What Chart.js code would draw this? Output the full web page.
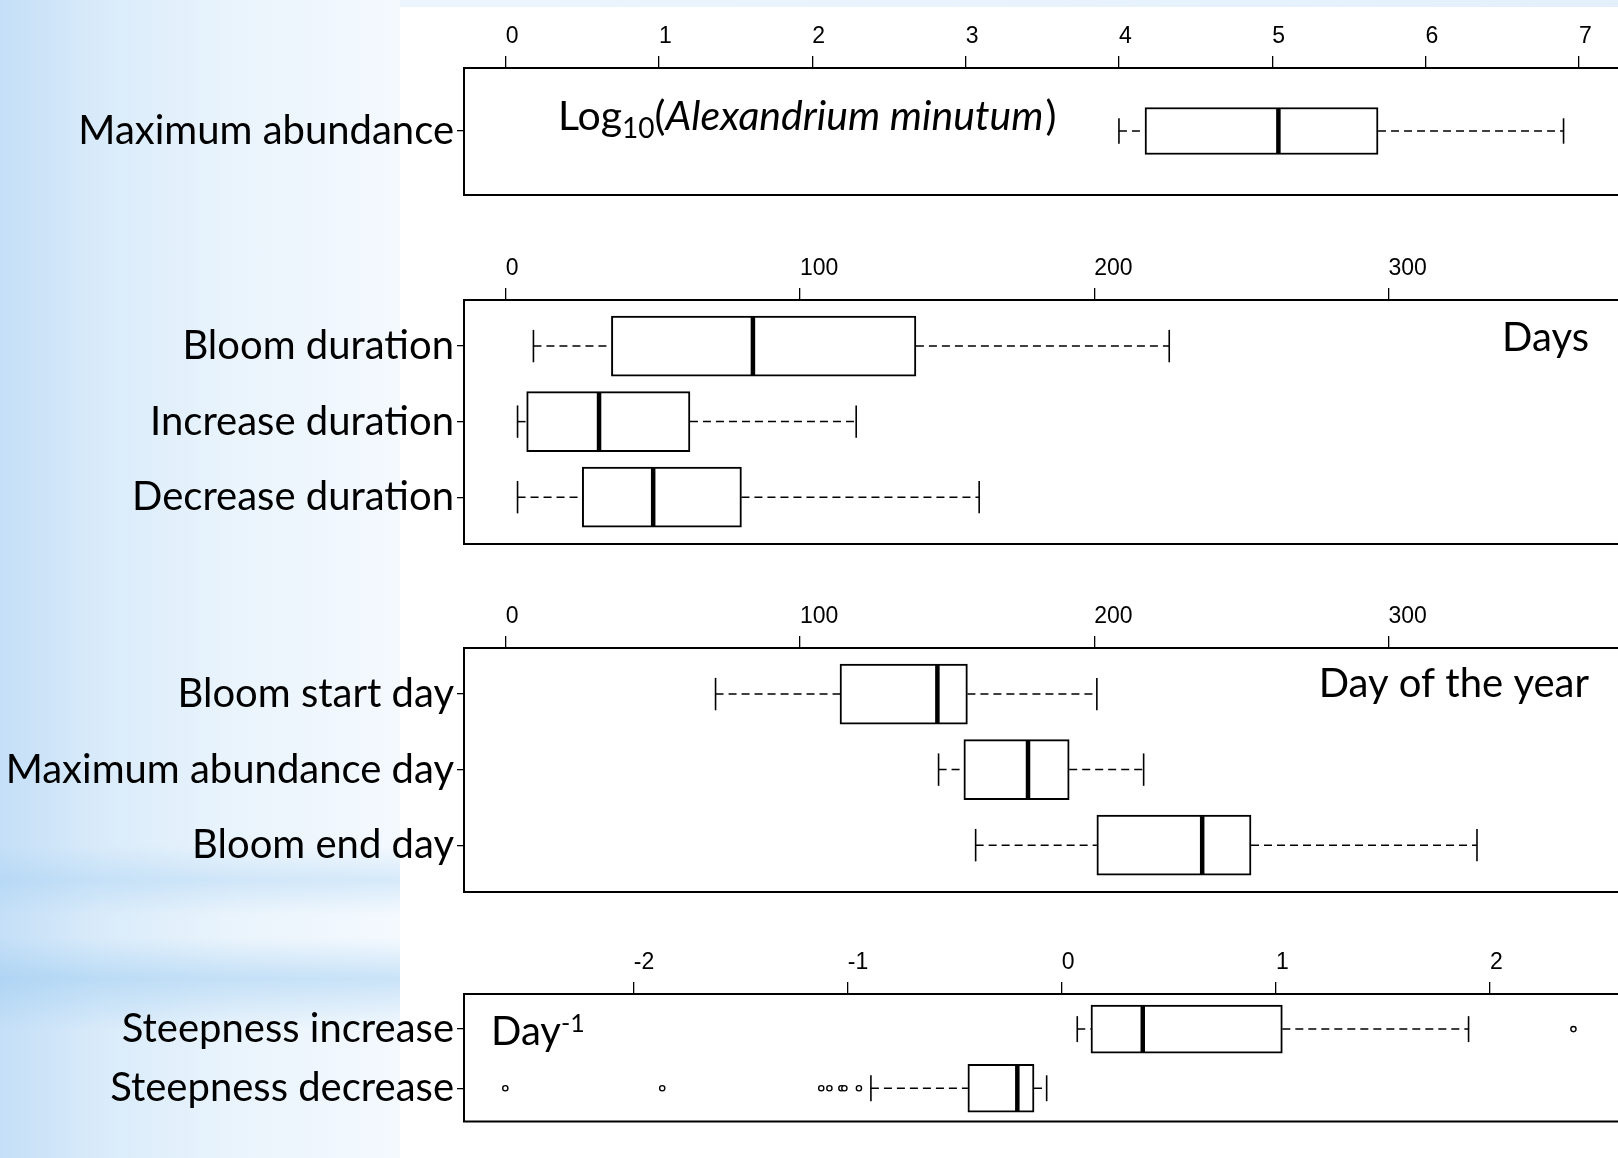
<!DOCTYPE html>
<html>
<head>
<meta charset="utf-8">
<script src="https://cdn.jsdelivr.net/npm/chart.js@4.4.1/dist/chart.umd.min.js"></script>
<style>
html, body { margin: 0; padding: 0; width: 1618px; height: 1158px; overflow: hidden; background: #fff; }
body { position: relative; }
#bg {
  position: absolute; left: 0; top: 0; width: 400px; height: 1158px;
  background:
    linear-gradient(to bottom, rgba(170,210,245,0) 0%, rgba(170,210,245,0) 73%, rgba(160,205,242,0.35) 76%, rgba(170,210,245,0) 79%,
      rgba(170,210,245,0) 81%, rgba(150,200,240,0.45) 84.5%, rgba(170,210,245,0) 89%),
    linear-gradient(to right, #c4dff7 0%, #d9ebfa 25%, #eaf4fc 60%, #f4f9fe 100%);
}
#strip { position: absolute; left: 400px; top: 0; width: 1218px; height: 7px; background: linear-gradient(to right, #ecf5fd, #e3f0fc); }
canvas { position: absolute; left: 0; }
</style>
</head>
<body>
<div id="bg"></div>
<div id="strip"></div>
<canvas id="p1"></canvas>
<canvas id="p2"></canvas>
<canvas id="p3"></canvas>
<canvas id="p4"></canvas>
<script>
// box stats per row: [lower whisker, Q1, median, Q3, upper whisker]
var abundRows = ['Maximum abundance'];
var abundTicks = [0, 1, 2, 3, 4, 5, 6, 7];
var abundStats = [[4.0, 4.17, 5.04, 5.69, 6.9]];

var durationRows = ['Bloom duration', 'Increase duration', 'Decrease duration'];
var durationTicks = [0, 100, 200, 300];
var durationStats = [
  [9.4, 35.9, 84.0, 139.4, 225.5],
  [4.0, 7.1, 31.7, 62.6, 119.1],
  [4.0, 26.0, 50.1, 80.1, 160.9]
];

var dayRows = ['Bloom start day', 'Maximum abundance day', 'Bloom end day'];
var dayTicks = [0, 100, 200, 300];
var dayStats = [
  [71.3, 113.6, 146.7, 156.9, 200.9],
  [147.1, 155.7, 177.5, 191.5, 216.8],
  [159.7, 200.9, 236.7, 253.3, 330.1]
];

var steepRows = ['Steepness increase', 'Steepness decrease'];
var steepTicks = [-2, -1, 0, 1, 2];
var steepStats = [
  [0.072, 0.136, 0.378, 1.03, 1.90],
  [-0.892, -0.439, -0.208, -0.130, -0.071]
];
var steepOutliers = [
  [2.39],
  [-2.6, -1.867, -1.124, -1.086, -1.03, -1.016, -0.948]
];

var W = 1700, AXIS_H = 68, LEFT = 464;

function makePanel(id, p) {
  var canvas = document.getElementById(id);
  var top = p.frameTop - AXIS_H;
  var h = AXIS_H + (p.frameBottom - p.frameTop) + 4;
  canvas.width = W; canvas.height = h;
  canvas.style.top = top + 'px';
  canvas.style.width = W + 'px'; canvas.style.height = h + 'px';

  var datasets = [{
    type: 'bar',
    indexAxis: 'y',
    data: p.stats.map(function (s, i) { return { x: [s[1], s[3]], y: i }; }),
    backgroundColor: '#ffffff',
    borderColor: '#000000',
    borderWidth: 2,
    borderSkipped: false,
    barThickness: p.box
  }];
  if (p.outliers) {
    var pts = [];
    p.outliers.forEach(function (arr, i) { arr.forEach(function (v) { pts.push({ x: v, y: i }); }); });
    datasets.push({
      type: 'scatter', data: pts, pointRadius: 2.6, pointBorderWidth: 1.4,
      pointBackgroundColor: '#ffffff', pointBorderColor: '#000000'
    });
  }

  var extras = {
    id: 'extras',
    afterDatasetsDraw: function (chart) {
      var ctx = chart.ctx, x = chart.scales.x, y = chart.scales.y;
      function line(a, b, c, d) { ctx.beginPath(); ctx.moveTo(a, b); ctx.lineTo(c, d); ctx.stroke(); }
      ctx.save();
      ctx.strokeStyle = '#000';
      p.stats.forEach(function (s, i) {
        var yc = y.getPixelForValue(i);
        var px = s.map(function (v) { return x.getPixelForValue(v); });
        var half = p.box / 2, cap = p.box * 0.27;
        ctx.lineWidth = 1.5; ctx.setLineDash([8, 5]);
        line(px[0], yc, px[1], yc);
        line(px[3], yc, px[4], yc);
        ctx.setLineDash([]); ctx.lineWidth = 1.6;
        line(px[0], yc - cap, px[0], yc + cap);
        line(px[4], yc - cap, px[4], yc + cap);
        ctx.lineWidth = 4.5;
        line(px[2], yc - half + 1, px[2], yc + half - 1);
      });
      ctx.restore();
    },
    afterDraw: function (chart) {
      var ctx = chart.ctx, a = chart.chartArea;
      ctx.save();
      ctx.strokeStyle = '#000'; ctx.lineWidth = 2;
      ctx.beginPath();
      ctx.moveTo(a.right + 5, a.top); ctx.lineTo(a.left, a.top);
      ctx.lineTo(a.left, a.bottom); ctx.lineTo(a.right + 5, a.bottom);
      ctx.stroke();
      ctx.fillStyle = '#000';
      ctx.textBaseline = 'alphabetic';
      (p.texts || []).forEach(function (t) { t(ctx, top); });
      ctx.restore();
    }
  };

  return new Chart(canvas, {
    data: { datasets: datasets },
    plugins: [extras],
    options: {
      responsive: false,
      animation: false,
      layout: { padding: { top: 0, left: 0, right: 0, bottom: 4 } },
      plugins: { legend: { display: false }, tooltip: { enabled: false } },
      scales: {
        x: {
          type: 'linear', position: 'top', min: p.xMin, max: p.xMax, offset: false,
          afterBuildTicks: function (s) { s.ticks = p.ticks.map(function (v) { return { value: v }; }); },
          afterFit: function (s) { s.height = AXIS_H; s.paddingLeft = 0; s.paddingRight = 0; },
          grid: { drawOnChartArea: false, drawTicks: true, tickLength: 12, color: '#000', lineWidth: 1.3, offset: false },
          border: { display: false },
          ticks: { color: '#000', padding: 6, maxRotation: 0, autoSkip: false, align: 'start',
            font: { family: '"Liberation Sans", Arial, sans-serif', size: 23 } }
        },
        y: {
          type: 'linear', position: 'left', reverse: true, min: p.yMin, max: p.yMax, offset: false,
          afterBuildTicks: function (s) { s.ticks = p.rows.map(function (r, i) { return { value: i }; }); },
          afterFit: function (s) { s.width = LEFT; s.paddingTop = 0; s.paddingBottom = 0; },
          grid: { drawOnChartArea: false, drawTicks: true, tickLength: 7, color: '#000', lineWidth: 1.3, offset: false },
          border: { display: false },
          ticks: { color: '#000', padding: 3, autoSkip: false,
            font: { family: 'Lato, "Open Sans", sans-serif', size: 40 },
            callback: function (v) { return p.rows[v]; } }
        }
      }
    }
  });
}

makePanel('p1', {
  rows: abundRows, stats: abundStats, ticks: abundTicks,
  frameTop: 68, frameBottom: 195, xMin: -0.272, xMax: 7.79, yMin: -0.63, yMax: 0.64, box: 47,
  texts: [function (ctx, top) {
    var x = 558, b = 130 - top;
    ctx.font = '41px Lato'; ctx.fillText('Log', x, b); x += ctx.measureText('Log').width;
    ctx.font = '28px Lato'; ctx.fillText('10', x, b + 8); x += ctx.measureText('10').width;
    ctx.font = '41px Lato'; ctx.fillText('(', x, b); x += ctx.measureText('(').width;
    ctx.font = 'italic 41px Lato'; ctx.fillText('Alexandrium minutum', x, b); x += ctx.measureText('Alexandrium minutum').width + 2;
    ctx.font = '41px Lato'; ctx.fillText(')', x, b);
  }]
});

makePanel('p2', {
  rows: durationRows, stats: durationStats, ticks: durationTicks,
  frameTop: 300, frameBottom: 544, xMin: -14.2, xMax: 405.9, yMin: -0.61, yMax: 2.62, box: 60,
  texts: [function (ctx, top) {
    ctx.font = '40px Lato'; ctx.textAlign = 'right'; ctx.fillText('Days', 1589, 351 - top); ctx.textAlign = 'left';
  }]
});

makePanel('p3', {
  rows: dayRows, stats: dayStats, ticks: dayTicks,
  frameTop: 648, frameBottom: 892, xMin: -14.2, xMax: 405.9, yMin: -0.61, yMax: 2.62, box: 60,
  texts: [function (ctx, top) {
    ctx.font = '40px Lato'; ctx.textAlign = 'right'; ctx.fillText('Day of the year', 1589, 697 - top); ctx.textAlign = 'left';
  }]
});

makePanel('p4', {
  rows: steepRows, stats: steepStats, outliers: steepOutliers, ticks: steepTicks,
  frameTop: 994, frameBottom: 1123, xMin: -2.793, xMax: 2.956, yMin: -0.594, yMax: 1.564, box: 48,
  texts: [function (ctx, top) {
    var x = 491, b = 1045 - top;
    ctx.font = '40px Lato'; ctx.fillText('Day', x, b); x += ctx.measureText('Day').width;
    ctx.font = '25px Lato'; ctx.fillText('-1', x, b - 13);
  }]
});
</script>
</body>
</html>
